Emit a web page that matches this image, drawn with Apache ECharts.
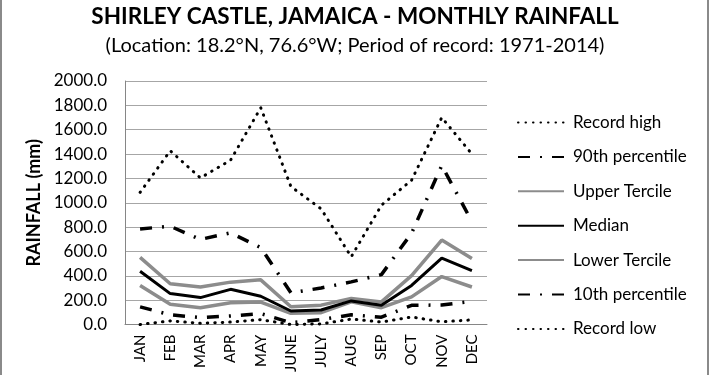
<!DOCTYPE html>
<html><head><meta charset="utf-8">
<script src="https://cdn.jsdelivr.net/npm/echarts@6/dist/echarts.min.js"></script>
<style>html,body{margin:0;padding:0;background:#fff}#c{width:710px;height:375px}</style>
</head><body><div id="c"></div>
<script>
const months = ['JAN','FEB','MAR','APR','MAY','JUNE','JULY','AUG','SEP','OCT','NOV','DEC'];
const recordHigh = [1085, 1427, 1204, 1350, 1780, 1133, 950, 556, 980, 1185, 1700, 1400];
const p90 = [785, 807, 699, 753, 632, 260, 300, 350, 410, 750, 1306, 845];
const upperTercile = [551, 335, 308, 348, 367, 146, 159, 213, 186, 402, 694, 542];
const median = [437, 254, 221, 289, 232, 111, 119, 194, 159, 321, 545, 443];
const lowerTercile = [321, 167, 138, 178, 184, 92, 97, 186, 138, 227, 394, 308];
const p10 = [145, 80, 57, 70, 90, 15, 40, 80, 60, 158, 160, 190];
const recordLow = [0, 30, 10, 20, 40, 0, 5, 45, 20, 62, 22, 38];
const yTicks = {min: 0, max: 2000, interval: 200};

const FONT = 'Lato';
const dotted = {color:'#000', width:3, type:[0.5,7], cap:'round'};
const dashDot = {color:'#000', width:3.5, type:[12,10,2,10], cap:'butt'};
function s(name, data, ls){
  return {name, type:'line', data, symbol:'none', showSymbol:false, smooth:false,
    lineStyle: ls, itemStyle:{color: ls.color}, z: ls.z || 2};
}
const chart = echarts.init(document.getElementById('c'), null, {renderer:'canvas'});
chart.setOption({
  animation:false,
  backgroundColor:'#fff',
  title:[
    {text:'SHIRLEY CASTLE, JAMAICA - MONTHLY RAINFALL', left:'center', top:0,
     textStyle:{fontFamily:FONT, fontWeight:'bold', fontSize:22.5, color:'#000'}},
    {text:'(Location: 18.2°N, 76.6°W; Period of record: 1971-2014)', left:'center', top:31,
     textStyle:{fontFamily:FONT, fontWeight:'normal', fontSize:20, color:'#000'}}
  ],
  grid:{left:125, right:223, top:81, bottom:47, containLabel:false},
  legend:{orient:'vertical', left:517, top:114, padding:0, itemWidth:46, itemHeight:14, itemGap:17.4,
    itemStyle:{opacity:0},
    textStyle:{fontFamily:FONT, fontSize:17, color:'#000', padding:[0,0,0,4]},
    data:['Record high','90th percentile','Upper Tercile','Median','Lower Tercile','10th percentile','Record low']},
  xAxis:{type:'category', data:months, boundaryGap:true,
    axisLine:{lineStyle:{color:'#868686', width:1}}, axisTick:{show:false},
    axisLabel:{rotate:90, margin:10, fontFamily:FONT, fontSize:15, color:'#000', interval:0}},
  yAxis:{type:'value', min:yTicks.min, max:yTicks.max, interval:yTicks.interval,
    name:'RAINFALL (mm)', nameLocation:'middle', nameGap:76, nameRotate:90,
    nameTextStyle:{fontFamily:FONT, fontWeight:'bold', fontSize:18, color:'#000'},
    axisLine:{show:true, lineStyle:{color:'#868686', width:1}}, axisTick:{show:false},
    splitLine:{lineStyle:{color:'#a6a6a6', width:1}},
    axisLabel:{margin:18, fontFamily:FONT, fontSize:17, color:'#000', formatter:v=>v.toFixed(1)}},
  series:[
    s('Record high', recordHigh, dotted),
    s('90th percentile', p90, dashDot),
    s('Upper Tercile', upperTercile, {color:'#8c8c8c', width:3.5, type:'solid'}),
    s('Median', median, {color:'#000', width:3, type:'solid', z:3}),
    s('Lower Tercile', lowerTercile, {color:'#8c8c8c', width:3.5, type:'solid'}),
    s('10th percentile', p10, dashDot),
    s('Record low', recordLow, dotted)
  ],
  graphic:[
    {type:'line', shape:{x1:1,y1:0,x2:1,y2:375}, style:{stroke:'#8a8a8a', lineWidth:2}},
    {type:'line', shape:{x1:708,y1:0,x2:708,y2:375}, style:{stroke:'#8a8a8a', lineWidth:2}}
  ]
});
</script></body></html>
